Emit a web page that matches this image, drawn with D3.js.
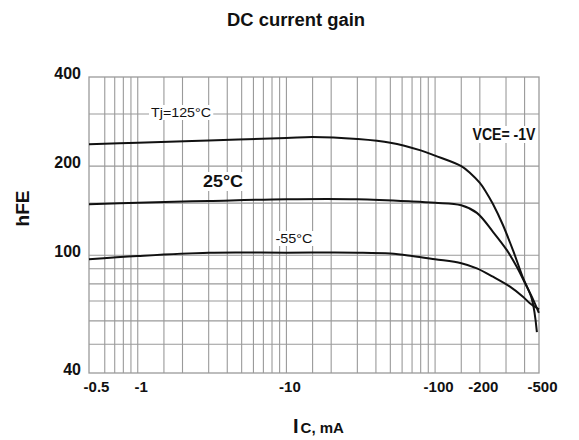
<!DOCTYPE html>
<html>
<head>
<meta charset="utf-8">
<script src="https://cdn.jsdelivr.net/npm/d3@7/dist/d3.min.js"></script>
<style>
  html, body { margin: 0; padding: 0; background: #fff; }
  svg { display: block; }
  text { font-family: "Liberation Sans", Arial, Helvetica, sans-serif; fill: #111; }
</style>
</head>
<body>
<script>
// ---- data (IC in mA, magnitude; hFE) ----
const ic125 = [0.47, 1, 3, 10, 15, 30, 50, 80, 100, 150, 172, 200, 220, 245, 286, 334, 390, 448, 484];
const h125  = [237, 240, 244, 249, 251, 247, 240, 226, 217, 200, 189.6, 175.4, 163.6, 148.9, 126.5, 104, 84, 71, 55];

const ic25 = [0.47, 1, 3, 10, 30, 70, 100, 150, 191, 245, 304, 355, 402, 448, 499];
const h25  = [148.6, 150.4, 152.5, 154.6, 154.6, 152, 150.4, 147.5, 139, 120, 104, 91.2, 80.6, 72.3, 63.8];

const icM55 = [0.47, 1, 3, 10, 30, 50, 70, 100, 150, 191, 245, 319, 390, 434, 500];
const hM55  = [96.9, 99.4, 102, 102, 102, 101.3, 99.4, 96.9, 94, 90.3, 84.6, 78.3, 72.4, 68.8, 65.6];

const xGrid = [0.6, 0.7, 0.8, 0.9, 1, 1.5, 2, 3, 4, 5, 6, 7, 8, 9, 10, 15, 20, 30, 40, 50, 60, 70, 80, 90, 100, 150, 200, 300, 400];
const yGrid = [50, 60, 70, 80, 90, 100, 150, 200, 300];
const xTickVals = [0.5, 1, 10, 100, 200, 500];
const xTickLabels = ["-0.5", "-1", "-10", "-100", "-200", "-500"];
const yTickVals = [400, 200, 100, 40];
const yTickLabels = ["400", "200", "100", "40"];

const W = 579, H = 440;
const svg = d3.select("body").append("svg").attr("width", W).attr("height", H);

const x = d3.scaleLog().domain([0.47, 500]).range([89, 539]);
const y = d3.scaleLog().domain([40, 400]).range([373, 77]);

const gridColor = "#9a9a9a";
const g = svg.append("g");

// grid
g.selectAll("line.vx").data(xGrid).enter().append("line")
  .attr("x1", d => x(d)).attr("x2", d => x(d))
  .attr("y1", y(400)).attr("y2", y(40))
  .attr("stroke", gridColor).attr("stroke-width", 1.1);
g.selectAll("line.hy").data(yGrid).enter().append("line")
  .attr("x1", x(0.47)).attr("x2", x(500))
  .attr("y1", d => y(d)).attr("y2", d => y(d))
  .attr("stroke", gridColor).attr("stroke-width", 1.1);
// frame
g.append("rect")
  .attr("x", x(0.47)).attr("y", y(400))
  .attr("width", x(500) - x(0.47)).attr("height", y(40) - y(400))
  .attr("fill", "none").attr("stroke", gridColor).attr("stroke-width", 1.3);

// labels with white background (drawn before curves)
function label(txt, cx, by, size, weight, anchor, tl) {
  const t = svg.append("text").attr("x", cx).attr("y", by)
    .attr("font-size", size).attr("font-weight", weight)
    .attr("text-anchor", anchor || "middle").text(txt);
  if (tl) t.attr("textLength", tl).attr("lengthAdjust", "spacingAndGlyphs");
  const b = t.node().getBBox();
  svg.insert("rect", () => t.node())
    .attr("x", b.x - 2).attr("y", b.y).attr("width", b.width + 4).attr("height", b.height)
    .attr("fill", "#fff");
  return t;
}
label("Tj=125\u00B0C", 181, 117, 13.5, "normal", "middle", 60);
label("25\u00B0C", 223, 187, 17, "bold", "middle", 40);
label("-55\u00B0C", 294, 243, 13.5, "normal", "middle", 37);
label("VCE= -1V", 504, 140, 16, "bold", "middle", 63);

// curves
const line = d3.line().x(d => x(d[0])).y(d => y(d[1])).curve(d3.curveCatmullRom.alpha(0.5));
const series = [
  d3.zip(ic125, h125),
  d3.zip(ic25, h25),
  d3.zip(icM55, hM55)
];
svg.selectAll("path.curve").data(series).enter().append("path")
  .attr("d", line).attr("fill", "none")
  .attr("stroke", "#111").attr("stroke-width", 2);

// axis tick labels
svg.selectAll("text.xt").data(xTickVals).enter().append("text")
  .attr("x", d => x(d) + 3.5).attr("y", 392)
  .attr("text-anchor", "middle").attr("font-size", 15).attr("font-weight", "bold")
  .text((d, i) => xTickLabels[i]);
svg.selectAll("text.yt").data(yTickVals).enter().append("text")
  .attr("x", 81).attr("y", d => y(d) + 1.5)
  .attr("text-anchor", "end").attr("font-size", 16).attr("font-weight", "bold")
  .text((d, i) => yTickLabels[i]);

// title
svg.append("text").attr("x", 296).attr("y", 26).attr("text-anchor", "middle")
  .attr("font-size", 18).attr("font-weight", "bold")
  .attr("textLength", 138).attr("lengthAdjust", "spacingAndGlyphs")
  .text("DC current gain");

// y axis title
svg.append("text").attr("transform", "translate(29,208.5) rotate(-90)")
  .attr("text-anchor", "middle").attr("font-size", 19).attr("font-weight", "bold")
  .text("hFE");

// x axis title
const xt = svg.append("text").attr("x", 293).attr("y", 433).attr("font-weight", "bold");
xt.append("tspan").attr("font-size", 20).text("I");
xt.append("tspan").attr("font-size", 15).attr("dx", 2).text("C, mA");
</script>
</body>
</html>
